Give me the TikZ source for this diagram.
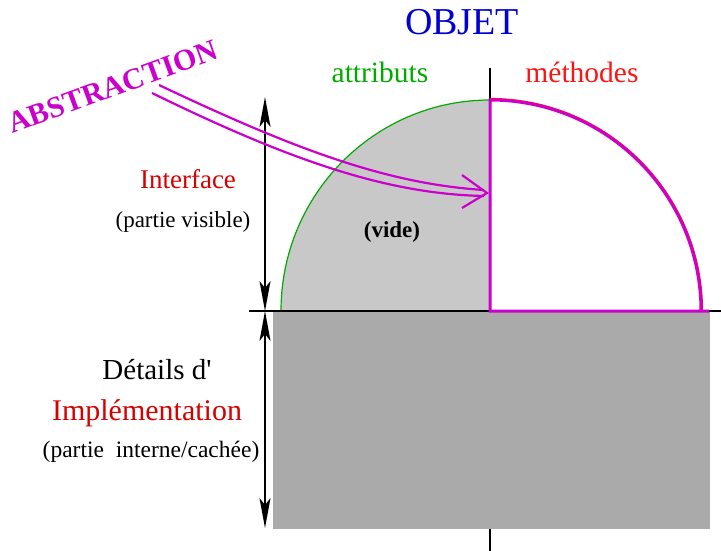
\documentclass[tikz,border=0pt]{standalone}
\usepackage{fontspec}
\setmainfont{Liberation Serif}
\usetikzlibrary{arrows.meta}
\definecolor{mag}{RGB}{204,0,204}
\definecolor{lgray}{RGB}{200,200,200}
\definecolor{dgray}{RGB}{170,170,170}
\definecolor{agreen}{RGB}{0,170,0}
\definecolor{mred}{RGB}{255,20,20}
\definecolor{ired}{RGB}{215,0,0}
\definecolor{oblue}{RGB}{0,0,210}
\tikzset{
  txt/.style={anchor=base, inner sep=0pt},
  axis/.style={black, line width=1.6pt},
  dim/.style={black, line width=1.6pt, {Stealth[length=30pt,width=11pt,inset=7pt]}-{Stealth[length=30pt,width=11pt,inset=7pt]}},
  abs/.style={mag, line width=2.2pt},
  meth/.style={mag, line width=3pt, line join=miter},
}
\begin{document}
\begin{tikzpicture}[x=1pt,y=-1pt]
\useasboundingbox (0,0) rectangle (721,551);
% attributs quarter
\coordinate (c) at (490,311);
\fill[lgray] (281,311) arc[start angle=180, end angle=270, x radius=209, y radius=211] -- (c) -- cycle;
\draw[agreen, line width=1.2pt] (281,311) arc[start angle=180, end angle=270, x radius=209, y radius=211];
% axes
\coordinate (vt) at (490,68);
\coordinate (vb) at (490,551);
\coordinate (hl) at (249,311);
\coordinate (hr) at (721,311);
\draw[axis] (vt) -- (vb);
% implementation block
\fill[dgray] (273,311) rectangle (710,529);
\draw[axis] (hl) -- (hr);
% methodes quarter
\draw[mred, line width=1.2pt] (490,98.5) arc[start angle=270, end angle=360, x radius=212.5, y radius=212.5];
\draw[meth] (709,311) -- (c) -- (490,100) arc[start angle=270, end angle=360, x radius=211, y radius=211];
% dimension arrows
\coordinate (dt) at (265,97);
\coordinate (dm) at (265,311);
\coordinate (db) at (265,528);
\draw[dim] (dt) -- (dm);
\draw[dim] (dm) -- (db);
% abstraction arrow
\coordinate (a1) at (159,85);
\coordinate (a2) at (152,93);
\coordinate (e1) at (484,190);
\coordinate (e2) at (484,196);
\coordinate (tip) at (487,193);
\coordinate (w1) at (462,175);
\coordinate (w2) at (462,208);
\draw[abs] (a1) .. controls (300,152) and (390,184) .. (e1);
\draw[abs] (a2) .. controls (295,163) and (390,194) .. (e2);
\draw[abs, line join=miter] (w1) -- (tip) -- (w2);
% texts
\node[txt, oblue, font=\fontsize{38}{40}\selectfont] (objet) at (462,35) {OBJET};
\node[txt, agreen, font=\fontsize{29.5}{32}\selectfont] (attr) at (380,83) {attributs};
\node[txt, mred, font=\fontsize{29.5}{32}\selectfont] (meth) at (582,83) {méthodes};
\node[txt, mag, font=\bfseries\fontsize{30}{32}\selectfont, rotate=20] (abstr) at (116,96) {ABSTRACTION};
\node[txt, ired, font=\fontsize{27}{30}\selectfont] (intf) at (188,188) {Interface};
\node[txt, font=\fontsize{23}{26}\selectfont] (pvis) at (183,227) {(partie visible)};
\node[txt, font=\bfseries\fontsize{23}{26}\selectfont] (vide) at (392,237) {(vide)};
\node[txt, font=\fontsize{29}{32}\selectfont] (det) at (157,379) {Détails d\textquotesingle};
\node[txt, ired, font=\fontsize{30}{32}\selectfont] (impl) at (147,420) {Implémentation};
\node[txt, font=\fontsize{23.5}{26}\selectfont] (pint) at (151,457) {(partie\ \ interne/cachée)};
\end{tikzpicture}
\end{document}
